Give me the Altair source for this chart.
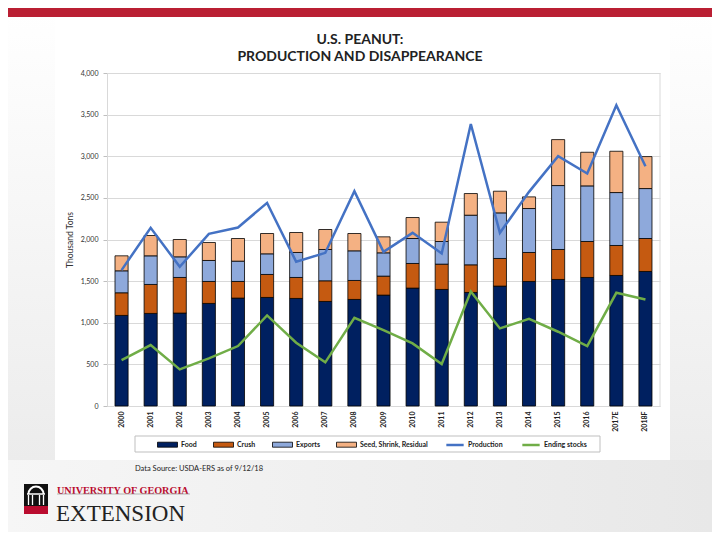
import altair as alt
import pandas as pd

years = ["2000", "2001", "2002", "2003", "2004", "2005", "2006", "2007", "2008", "2009",
         "2010", "2011", "2012", "2013", "2014", "2015", "2016", "2017E", "2018F"]
food = [1088, 1112, 1116, 1232, 1296, 1304, 1292, 1256, 1280, 1332, 1416, 1400, 1364, 1440, 1496, 1520, 1544, 1568, 1616]
crush = [272, 348, 428, 264, 200, 276, 252, 248, 228, 228, 296, 304, 332, 332, 348, 360, 432, 360, 396]
exports = [264, 344, 248, 252, 244, 248, 300, 376, 356, 280, 300, 272, 596, 548, 528, 768, 668, 636, 600]
seed = [180, 244, 208, 216, 272, 244, 240, 240, 208, 192, 252, 232, 260, 260, 140, 552, 404, 496, 384]
production = [1632, 2140, 1672, 2068, 2144, 2440, 1732, 1840, 2580, 1852, 2080, 1832, 3387, 2080, 2572, 3000, 2792, 3612, 2880]
ending_stocks = [552, 732, 440, 572, 720, 1088, 760, 524, 1060, 912, 752, 504, 1376, 932, 1048, 892, 720, 1360, 1280]

bar_series = ["Food", "Crush", "Exports", "Seed, Shrink, Residual"]
bar_colors = ["#002060", "#C55A11", "#8EA9DB", "#F4B183"]
line_series = ["Production", "Ending stocks"]
line_colors = ["#4472C4", "#70AD47"]
y_ticks = [0, 500, 1000, 1500, 2000, 2500, 3000, 3500, 4000]

rows = []
for k, (name, vals) in enumerate(zip(bar_series, [food, crush, exports, seed])):
    for i, yr in enumerate(years):
        rows.append({"year": yr, "bar_series": name, "value": vals[i], "ord": k})
bars_df = pd.DataFrame(rows)

lrows = []
for name, vals in zip(line_series, [production, ending_stocks]):
    for i, yr in enumerate(years):
        lrows.append({"year": yr, "line_series": name, "value": vals[i]})
lines_df = pd.DataFrame(lrows)

one = pd.DataFrame({"a": [0]})
FONT = "Lato"
W, H = 553, 333

x_enc = alt.X("year:N", sort=years,
              scale=alt.Scale(paddingInner=0.55, paddingOuter=0.275),
              axis=alt.Axis(title=None, labelAngle=-90, labelFontSize=7, labelFontWeight="bold",
                            labelColor="#222222", labelFont=FONT, domainColor="#d9d9d9",
                            ticks=False, labelPadding=5))
y_enc = alt.Y("value:Q", stack="zero",
              scale=alt.Scale(domain=[0, 4000]),
              axis=alt.Axis(values=y_ticks, format=",.0f", title="Thousand Tons",
                            titleFontSize=8.5, titleFontWeight="normal", titleFont=FONT,
                            titleColor="#333333", titlePadding=6,
                            labelFontSize=7, labelFont=FONT, labelColor="#333333",
                            gridColor="#d9d9d9", domainColor="#d9d9d9",
                            tickColor="#bfbfbf", tickSize=4, labelPadding=5))

rect_path = "M-1,-0.25L1,-0.25L1,0.25L-1,0.25Z"

bars = alt.Chart(bars_df).mark_bar(stroke="black", strokeWidth=0.8).encode(
    x=x_enc,
    y=y_enc,
    fill=alt.Fill("bar_series:N", sort=bar_series,
                  scale=alt.Scale(domain=bar_series, range=bar_colors),
                  legend=alt.Legend(orient="none", legendX=50, legendY=361, direction="horizontal",
                                    title=None, labelFontSize=7, labelFontWeight="bold", labelFont=FONT,
                                    labelColor="#222222", symbolType=rect_path, symbolSize=400,
                                    symbolStrokeColor="black", symbolStrokeWidth=0.8,
                                    symbolOpacity=1, columnPadding=14, labelOffset=3, padding=0,
                                    zindex=1)),
    order=alt.Order("ord:Q"),
)

lines = alt.Chart(lines_df).mark_line(strokeWidth=2.5).encode(
    x=alt.X("year:N", sort=years),
    y=alt.Y("value:Q"),
    stroke=alt.Stroke("line_series:N", sort=line_series,
                      scale=alt.Scale(domain=line_series, range=line_colors),
                      legend=alt.Legend(orient="none", legendX=338, legendY=362, direction="horizontal",
                                        title=None, labelFontSize=7, labelFontWeight="bold", labelFont=FONT,
                                        labelColor="#222222", symbolType="stroke", symbolSize=300,
                                        symbolStrokeWidth=2.5, columnPadding=14, labelOffset=3,
                                        padding=0, zindex=1)),
)

def deco_rect(x, x2, y, y2, **kw):
    return alt.Chart(one).mark_rect(**kw).encode(
        x=alt.value(x), x2=alt.value(x2), y=alt.value(y), y2=alt.value(y2))

grad_v = alt.Gradient(gradient="linear", x1=0, y1=0, x2=0, y2=1,
                      stops=[alt.GradientStop(offset=0, color="#ffffff"),
                             alt.GradientStop(offset=1, color="#ececec")])
grad_h = alt.Gradient(gradient="linear", x1=0, y1=0, x2=1, y2=0,
                      stops=[alt.GradientStop(offset=0, color="#f6f6f6"),
                             alt.GradientStop(offset=1, color="#e8e8e8")])

left_strip = deco_rect(-99, -52, -65, 387, fill=grad_v)
right_strip = deco_rect(563, 605, -65, 387, fill=grad_v)
bottom_strip = deco_rect(-99, 605, 387, 459, fill=grad_h)
banner = deco_rect(-99, 605, -65, -56, fill="#BA1F33")
legend_box = deco_rect(28, 493, 363, 379, fillOpacity=0, stroke="#bfbfbf", strokeWidth=1)
right_border = alt.Chart(one).mark_rule(color="#d9d9d9").encode(
    x=alt.value(W), y=alt.value(0), y2=alt.value(H))

def txt(text, x, y, **kw):
    return alt.Chart(one).mark_text(text=text, **kw).encode(x=alt.value(x), y=alt.value(y))

title1 = txt("U.S. PEANUT:", 253, -33, font=FONT, fontSize=14, fontWeight="bold", color="#222222", align="center")
title2 = txt("PRODUCTION AND DISAPPEARANCE", 253, -16, font=FONT, fontSize=14, fontWeight="bold", color="#222222", align="center")
source = txt("Data Source: USDA-ERS as of 9/12/18", 28, 396, font=FONT, fontSize=7.5, color="#222222", align="left")

# logo
logo_black = deco_rect(-83, -59, 411, 441, fill="#111111")
logo_red = deco_rect(-83, -59, 433, 441, fill="#BA0C2F")
logo_dome = alt.Chart(one).mark_arc(innerRadius=6.5, outerRadius=8.5, theta=4.712, theta2=7.854,
                                    color="white").encode(x=alt.value(-71), y=alt.value(421))
logo_beam = alt.Chart(one).mark_rule(color="white", strokeWidth=1.5).encode(
    x=alt.value(-80), x2=alt.value(-62), y=alt.value(421))
logo_cols = alt.layer(*[
    alt.Chart(one).mark_rule(color="white", strokeWidth=1.3).encode(
        x=alt.value(cx), y=alt.value(422), y2=alt.value(432))
    for cx in (-78.5, -74.5, -67.5, -63.5)
])
uga = txt("UNIVERSITY OF GEORGIA", -50, 418, font="Liberation Serif", fontSize=10.2, fontWeight="bold",
          color="#BA0C2F", align="left")
uga_line = alt.Chart(one).mark_rule(color="#9a9a9a", strokeWidth=0.7).encode(
    x=alt.value(-50), x2=alt.value(83), y=alt.value(421))
ext = txt("EXTENSION", -51, 441, font="Liberation Serif", fontSize=23, color="#222222", align="left")

chart = alt.layer(
    left_strip, right_strip, bottom_strip, banner,
    bars, lines, right_border, legend_box,
    title1, title2, source,
    logo_black, logo_red, logo_dome, logo_beam, logo_cols, uga, uga_line, ext,
).resolve_scale(fill="independent", stroke="independent").properties(
    width=W, height=H,
    autosize=alt.AutoSizeParams(type="none"),
    padding={"left": 99, "top": 65, "right": 52, "bottom": 126},
    background="white",
).configure_view(stroke=None)

chart.save("out.html", embed_options={"renderer": "svg", "actions": False})
